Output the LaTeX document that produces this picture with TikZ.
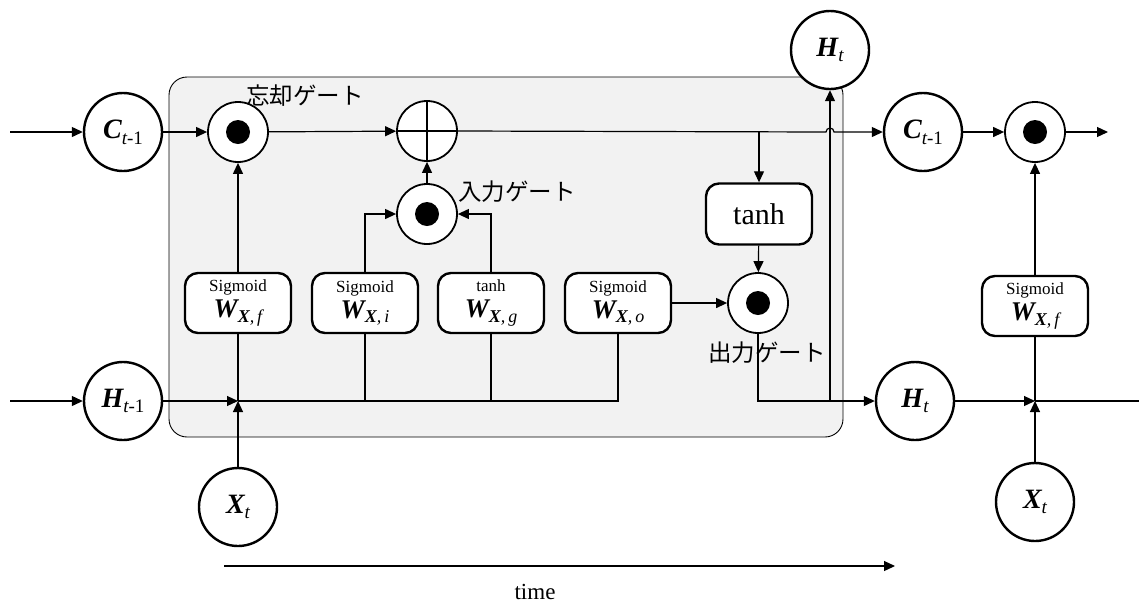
\documentclass[tikz,border=0pt]{standalone}
\usepackage{fontspec}
\setmainfont{Liberation Serif}
\newfontfamily\jpfont{Noto Sans CJK JP}
\usetikzlibrary{arrows.meta}

% bold italic variable with a subscript
\newcommand\varlbl[2]{{\bfseries\itshape #1}\raisebox{-0.45ex}{\fontsize{19}{19}\selectfont #2}}
% weight label W_{X, k}
\newcommand\wlbl[1]{{\fontsize{27}{27}\selectfont\bfseries\itshape W}\raisebox{-0.55ex}{\fontsize{18}{18}\selectfont{\bfseries\itshape X}\itshape,\,#1}}

\tikzset{
  var/.style={circle, draw, line width=2.4pt, fill=white, minimum size=78pt, inner sep=0pt, font=\fontsize{28}{28}\selectfont},
  gate/.style={circle, draw, line width=1.8pt, fill=white, minimum size=60pt, inner sep=0pt},
  wbox/.style={draw, line width=2.4pt, fill=white, rounded corners=13pt, minimum width=106pt, minimum height=60pt, inner sep=0pt, align=center, font=\fontsize{17}{26}\selectfont},
  conn/.style={line width=1.2pt},
  arr/.style={line width=1.2pt, -{Triangle[length=11pt,width=10pt]}},
  jplbl/.style={font=\jpfont\fontsize{23.5}{23.5}\selectfont, inner sep=0pt},
}

\begin{document}
\begin{tikzpicture}[x=1pt, y=-1pt]
\useasboundingbox (0,0) rectangle (1139,606);

% cell background
\draw[line width=0.9pt, fill=black!5, rounded corners=18pt] (169,77) rectangle (843,437);

% state and input nodes
\node[var] (cprev) at (123,132) {\varlbl{C}{\itshape t\upshape -1}};
\node[var] (hprev) at (123,401) {\varlbl{H}{\itshape t\upshape -1}};
\node[var] (xt) at (238,507) {\varlbl{X}{\itshape t}};
\node[var] (htop) at (830,50) {\varlbl{H}{\itshape t}};
\node[var] (cnext) at (923,132) {\varlbl{C}{\itshape t\upshape -1}};
\node[var] (hnext) at (915,401) {\varlbl{H}{\itshape t}};
\node[var] (xnext) at (1035,502) {\varlbl{X}{\itshape t}};

% gates
\node[gate] (fg) at (238,132) {};
\node[gate] (add) at (427,131) {};
\node[gate] (ig) at (427,214) {};
\node[gate] (og) at (758,303) {};
\node[gate] (fg2) at (1035,132) {};
\foreach \g in {fg,ig,og,fg2} \fill (\g) circle (12pt);
\draw[line width=1.8pt] (add.north) -- (add.south) (add.west) -- (add.east);

% weight boxes
\node[wbox] (wf) at (238,303) {Sigmoid\\\wlbl{f}};
\node[wbox] (wi) at (365,303) {Sigmoid\\\wlbl{i}};
\node[wbox] (wg) at (491,303) {tanh\\\wlbl{g}};
\node[wbox] (wo) at (618,303) {Sigmoid\\\wlbl{o}};
\node[wbox] (wf2) at (1035,306) {Sigmoid\\\wlbl{f}};
\node[wbox, minimum height=61pt, font=\fontsize{30}{30}\selectfont] (th) at (759,214) {tanh};

% gate labels
\node[jplbl] (lf) at (305,96) {忘却ゲート};
\node[jplbl] (li) at (517,192) {入力ゲート};
\node[jplbl] (lo) at (767,353) {出力ゲート};

% junction points
\coordinate (jx) at (238,401);
\coordinate (jx2) at (1035,401);
\coordinate (cin) at (10,132);
\coordinate (hin) at (10,401);
\coordinate (cout) at (1108,132);
\coordinate (hout) at (1139,401);
\coordinate (hop) at (830,132);
\coordinate (br) at (759,132);

% cell state path
\draw[arr] (cin) -- (cprev);
\draw[arr] (cprev) -- (fg);
\draw[arr] (fg) -- (add);
\draw[arr] (add.east) -- ([xshift=-4pt]hop) arc[start angle=180, end angle=0, radius=4pt] -- (cnext);
\draw[arr] (br) -- (th);
\draw[arr] (ig) -- (add);
\draw[arr] (cnext) -- (fg2);
\draw[arr] (fg2) -- (cout);

% hidden state and input path
\draw[arr] (hin) -- (hprev);
\draw[arr] (hprev) -- (jx);
\draw[arr] (xt) -- (jx);
\draw[conn] (jx) -- (wf);
\draw[arr] (wf) -- (fg);
\draw[conn] (jx) -- (wo.south |- jx) -- (wo);
\draw[conn] (wi.south |- jx) -- (wi);
\draw[conn] (wg.south |- jx) -- (wg);
\draw[arr] (wi) |- (ig);
\draw[arr] (wg) |- (ig);
\draw[arr] (wo) -- (og);
\draw[arr] (th) -- (og);
\draw[arr] (og) |- (hnext);
\draw[arr] (htop.south |- hnext) -- (htop);

% next step
\draw[arr] (hnext) -- (jx2);
\draw[arr] (xnext) -- (jx2);
\draw[conn] (jx2) -- (hout);
\draw[conn] (jx2) -- (wf2);
\draw[arr] (wf2) -- (fg2);

% time axis
\coordinate (t0) at (224,566);
\coordinate (t1) at (895,566);
\draw[arr] (t0) -- (t1);
\node[font=\fontsize{23}{23}\selectfont] (tlbl) at (535,592) {time};
\end{tikzpicture}
\end{document}
